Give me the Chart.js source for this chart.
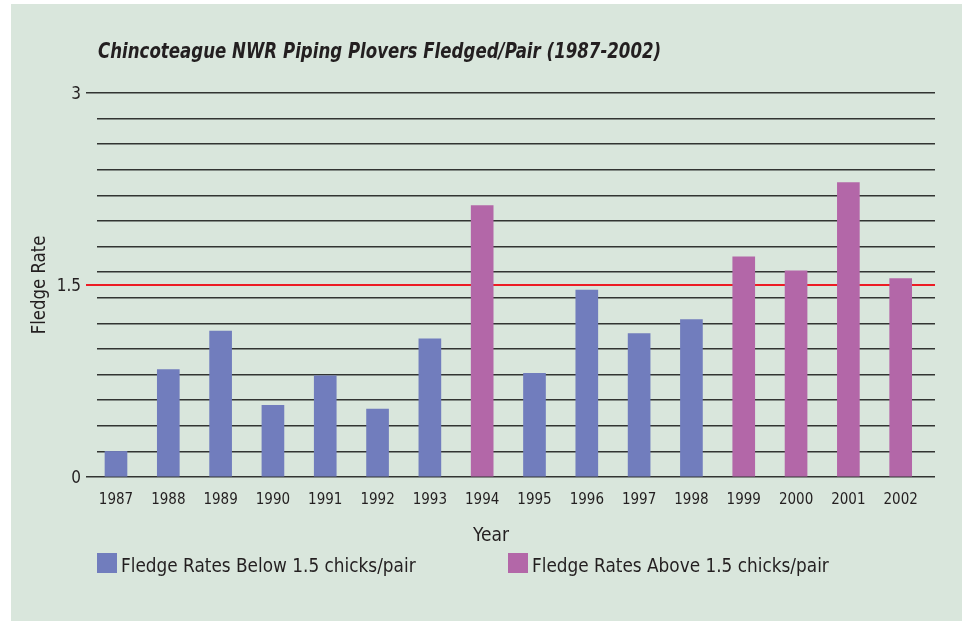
<!DOCTYPE html>
<html>
<head>
<meta charset="utf-8">
<style>
  html, body { margin: 0; padding: 0; background: #fff; }
  #panel { position: absolute; left: 11px; top: 4px; width: 951px; height: 617px; background: #d9e6dc; }
  #wrap { position: absolute; left: 0; top: 0; width: 962px; height: 621px; }
</style>
</head>
<body>
<div id="panel"></div>
<div id="wrap"><canvas id="plovers" width="962" height="621"></canvas></div>

<script src="https://cdn.jsdelivr.net/npm/chart.js@4.4.0/dist/chart.umd.min.js"></script>
<script>
  const years = ["1987", "1988", "1989", "1990", "1991", "1992", "1993", "1994",
                 "1995", "1996", "1997", "1998", "1999", "2000", "2001", "2002"];
  const rates = [0.2, 0.84, 1.14, 0.56, 0.79, 0.53, 1.08, 2.12,
                 0.81, 1.46, 1.12, 1.23, 1.72, 1.61, 2.3, 1.55];
  const target = 1.5;
  const gridValues = [0, 0.2, 0.4, 0.6, 0.8, 1, 1.2, 1.4, 1.5, 1.6, 1.8, 2, 2.2, 2.4, 2.6, 2.8, 3];
  const labelValues = [0, 1.5, 3];

  const blue = "#717dbd";
  const purple = "#b367a8";
  const font = "'Liberation Sans Narrow', 'DejaVu Sans Condensed', sans-serif";

  // split into the two legend groups
  const below = [], above = [];
  rates.forEach((r, i) => {
    if (r < target) below.push({ x: i, y: r });
    else above.push({ x: i, y: r });
  });

  const isLabel = (v) => labelValues.includes(v);

  // squeeze text horizontally, the original uses a condensed face
  function narrowText(ctx, text, x, y, sx, align) {
    ctx.save();
    ctx.translate(x, y);
    ctx.scale(sx, 1);
    ctx.textAlign = align;
    ctx.fillText(text, 0, 0);
    ctx.restore();
  }

  const textPlugin = {
    id: 'texts',
    afterDraw(chart) {
      const ctx = chart.ctx;
      ctx.save();
      ctx.fillStyle = '#231f20';
      ctx.textBaseline = 'alphabetic';

      ctx.font = `italic bold 21px ${font}`;
      narrowText(ctx, 'Chincoteague NWR Piping Plovers Fledged/Pair (1987-2002)', 98, 58, 0.88, 'left');

      ctx.font = `20px ${font}`;
      narrowText(ctx, 'Year', 491, 541, 0.95, 'center');

      ctx.save();
      ctx.translate(45, 285);
      ctx.rotate(-Math.PI / 2);
      narrowText(ctx, 'Fledge Rate', 0, 0, 0.92, 'center');
      ctx.restore();

      // legend
      const items = [[97, 0], [508, 1]];
      items.forEach(([x, idx]) => {
        const ds = chart.data.datasets[idx];
        ctx.fillStyle = ds.backgroundColor;
        ctx.fillRect(x, 553, 20, 20);
        ctx.fillStyle = '#231f20';
        narrowText(ctx, ds.label, x + 24, 572, 0.94, 'left');
      });
      ctx.restore();
    }
  };

  const ctx = document.getElementById('plovers').getContext('2d');

  new Chart(ctx, {
    type: 'bar',
    data: {
      datasets: [
        { label: 'Fledge Rates Below 1.5 chicks/pair', data: below, backgroundColor: blue },
        { label: 'Fledge Rates Above 1.5 chicks/pair', data: above, backgroundColor: purple }
      ]
    },
    options: {
      responsive: false,
      animation: false,
      layout: { padding: { top: 93, right: 27, left: 0, bottom: 0 } },
      datasets: { bar: { barThickness: 22, grouped: false } },
      plugins: {
        legend: { display: false },
        tooltip: { enabled: false },
        title: { display: false }
      },
      scales: {
        x: {
          type: 'linear',
          offset: false,
          min: -0.363,
          max: 15.656,
          grid: { display: false, drawTicks: false },
          border: { display: false },
          afterFit: (scale) => { scale.height = 621 - 477; },
          afterBuildTicks: (scale) => { scale.ticks = years.map((y, i) => ({ value: i })); },
          ticks: {
            padding: 14,
            color: '#231f20',
            font: { family: font, size: 15 },
            callback: (v) => years[v]
          }
        },
        y: {
          min: 0,
          max: 3,
          z: 1,
          afterFit: (scale) => { scale.width = 97; },
          afterBuildTicks: (scale) => { scale.ticks = gridValues.map((v) => ({ value: v })); },
          border: { display: false },
          grid: {
            tickLength: 11,
            color: (c) => c.tick && c.tick.value === target ? '#ed1c24' : 'rgba(20,20,20,0.85)',
            lineWidth: (c) => c.tick && c.tick.value === target ? 2 : 1.5,
            tickColor: (c) => {
              if (!c.tick) return 'transparent';
              if (c.tick.value === target) return '#ed1c24';
              return isLabel(c.tick.value) ? 'rgba(20,20,20,0.85)' : 'transparent';
            }
          },
          ticks: {
            padding: 5,
            labelOffset: 2,
            color: '#231f20',
            font: { family: font, size: 17 },
            callback: (v) => isLabel(v) ? String(v) : ''
          }
        }
      }
    },
    plugins: [textPlugin]
  });
</script>
</body>
</html>
